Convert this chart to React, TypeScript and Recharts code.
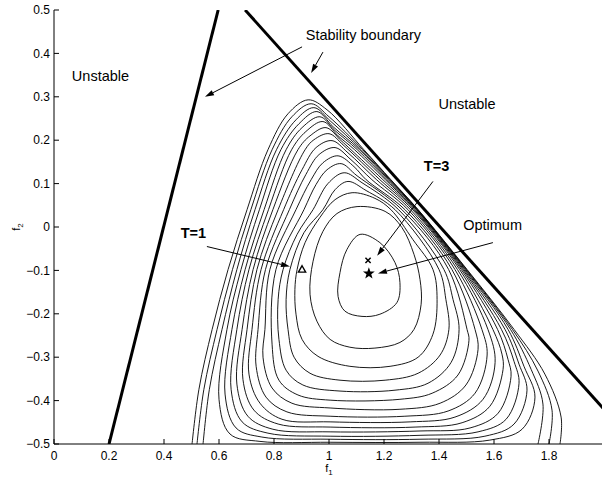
import React from 'react';
import { ComposedChart, Line, Scatter, XAxis, YAxis, ReferenceLine } from 'recharts';

const FONT = '"Liberation Sans", Arial, Helvetica, sans-serif';

const xTicks = [0, 0.2, 0.4, 0.6, 0.8, 1, 1.2, 1.4, 1.6, 1.8];
const yTicks = [-0.5, -0.4, -0.3, -0.2, -0.1, 0, 0.1, 0.2, 0.3, 0.4, 0.5];

// contour lines, innermost (c1) to outermost (c17); c15-c17 leave through the bottom edge
const c1 = [[1.113,-0.017],[1.185,-0.036],[1.24,-0.082],[1.258,-0.128],[1.247,-0.174],[1.185,-0.201],[1.12,-0.206],[1.058,-0.194],[1.033,-0.16],[1.04,-0.105],[1.065,-0.052]];
const c2 = [[1.102,0.047],[1.204,0.036],[1.265,-0.001],[1.309,-0.063],[1.331,-0.121],[1.335,-0.178],[1.309,-0.236],[1.258,-0.266],[1.167,-0.279],[1.076,-0.277],[1.004,-0.259],[0.956,-0.217],[0.931,-0.155],[0.942,-0.079],[0.978,-0.01],[1.029,0.031]];
const c3 = [[1.084,0.079],[1.167,0.066],[1.225,0.04],[1.305,-0.029],[1.378,-0.098],[1.393,-0.167],[1.378,-0.247],[1.324,-0.3],[1.222,-0.321],[1.076,-0.321],[0.96,-0.298],[0.902,-0.259],[0.88,-0.201],[0.876,-0.144],[0.884,-0.098],[0.913,-0.036],[0.967,0.022],[1.022,0.063]];
const c4 = [[1.069,0.105],[1.135,0.084],[1.24,0.04],[1.4,-0.098],[1.425,-0.167],[1.436,-0.236],[1.404,-0.295],[1.324,-0.337],[1.204,-0.353],[1.04,-0.353],[0.931,-0.337],[0.873,-0.3],[0.851,-0.236],[0.844,-0.167],[0.858,-0.098],[0.909,-0.013],[0.978,0.04],[1.022,0.086]];
const c5 = [[1.055,0.125],[1.12,0.102],[1.253,0.04],[1.418,-0.098],[1.451,-0.167],[1.473,-0.236],[1.444,-0.312],[1.36,-0.36],[1.24,-0.376],[1.04,-0.378],[0.905,-0.364],[0.844,-0.33],[0.818,-0.259],[0.815,-0.167],[0.833,-0.098],[0.884,-0.017],[0.942,0.04],[0.996,0.1]];
const c6 = [[1.044,0.146],[1.102,0.118],[1.265,0.04],[1.435,-0.098],[1.502,-0.236],[1.509,-0.261],[1.469,-0.341],[1.375,-0.383],[1.258,-0.397],[1.004,-0.399],[0.887,-0.387],[0.818,-0.353],[0.793,-0.27],[0.807,-0.098],[0.909,0.04],[0.953,0.098],[0.993,0.132]];
const c7 = [[1.033,0.164],[1.091,0.139],[1.135,0.109],[1.276,0.04],[1.447,-0.098],[1.531,-0.236],[1.542,-0.282],[1.498,-0.364],[1.404,-0.406],[1.258,-0.42],[1.004,-0.417],[0.865,-0.406],[0.793,-0.371],[0.76,-0.3],[0.767,-0.236],[0.785,-0.098],[0.88,0.04],[0.935,0.109],[0.978,0.148]];
const c8 = [[1.022,0.183],[1.08,0.155],[1.156,0.109],[1.287,0.04],[1.458,-0.098],[1.556,-0.236],[1.575,-0.295],[1.531,-0.383],[1.433,-0.424],[1.276,-0.436],[1.004,-0.436],[0.847,-0.426],[0.771,-0.392],[0.735,-0.321],[0.742,-0.236],[0.769,-0.098],[0.856,0.04],[0.916,0.121],[0.964,0.167]];
const c9 = [[1.011,0.199],[1.069,0.171],[1.173,0.109],[1.296,0.04],[1.467,-0.098],[1.578,-0.236],[1.604,-0.312],[1.56,-0.397],[1.458,-0.438],[1.295,-0.449],[1.004,-0.449],[0.829,-0.443],[0.749,-0.406],[0.709,-0.339],[0.72,-0.236],[0.753,-0.098],[0.835,0.04],[0.902,0.132],[0.953,0.183]];
const c10 = [[1.0,0.215],[1.055,0.187],[1.185,0.109],[1.304,0.04],[1.475,-0.098],[1.596,-0.236],[1.629,-0.293],[1.633,-0.328],[1.585,-0.413],[1.484,-0.451],[1.313,-0.461],[1.004,-0.461],[0.815,-0.454],[0.727,-0.422],[0.687,-0.351],[0.702,-0.236],[0.738,-0.098],[0.815,0.04],[0.913,0.178],[0.945,0.201]];
const c11 = [[0.989,0.229],[1.044,0.199],[1.08,0.178],[1.196,0.109],[1.309,0.04],[1.481,-0.098],[1.613,-0.236],[1.651,-0.305],[1.662,-0.344],[1.615,-0.429],[1.513,-0.463],[1.331,-0.47],[1.004,-0.472],[0.796,-0.466],[0.705,-0.436],[0.665,-0.362],[0.684,-0.236],[0.724,-0.098],[0.796,0.04],[0.887,0.178],[0.931,0.21]];
const c12 = [[0.978,0.243],[1.033,0.21],[1.093,0.178],[1.205,0.109],[1.313,0.04],[1.486,-0.098],[1.627,-0.236],[1.673,-0.31],[1.691,-0.36],[1.644,-0.443],[1.542,-0.472],[1.331,-0.48],[1.004,-0.482],[0.778,-0.475],[0.684,-0.449],[0.644,-0.374],[0.665,-0.236],[0.709,-0.098],[0.78,0.04],[0.864,0.178],[0.916,0.22]];
const c13 = [[0.967,0.254],[1.022,0.222],[1.103,0.178],[1.211,0.109],[1.317,0.04],[1.49,-0.098],[1.64,-0.236],[1.691,-0.316],[1.72,-0.376],[1.673,-0.454],[1.567,-0.482],[1.331,-0.489],[1.004,-0.489],[0.756,-0.484],[0.662,-0.463],[0.622,-0.385],[0.647,-0.236],[0.695,-0.098],[0.764,0.04],[0.844,0.178],[0.902,0.229]];
const c14 = [[0.956,0.266],[1.015,0.231],[1.111,0.178],[1.216,0.109],[1.319,0.04],[1.494,-0.098],[1.651,-0.236],[1.709,-0.321],[1.749,-0.392],[1.702,-0.466],[1.585,-0.491],[1.331,-0.496],[1.004,-0.496],[0.749,-0.494],[0.64,-0.477],[0.6,-0.397],[0.629,-0.236],[0.68,-0.098],[0.747,0.04],[0.825,0.178],[0.891,0.238]];
const c15 = [[0.542,-0.5],[0.565,-0.374],[0.611,-0.236],[0.665,-0.098],[0.731,0.04],[0.809,0.178],[0.88,0.247],[0.945,0.275],[1.007,0.243],[1.117,0.178],[1.22,0.109],[1.321,0.04],[1.497,-0.098],[1.66,-0.236],[1.735,-0.328],[1.778,-0.408],[1.76,-0.5]];
const c16 = [[0.52,-0.5],[0.545,-0.374],[0.593,-0.236],[0.649,-0.098],[0.716,0.04],[0.793,0.178],[0.865,0.254],[0.935,0.284],[1.0,0.254],[1.123,0.178],[1.223,0.109],[1.323,0.04],[1.5,-0.098],[1.667,-0.236],[1.76,-0.332],[1.811,-0.422],[1.8,-0.5]];
const c17 = [[0.502,-0.5],[0.527,-0.374],[0.575,-0.236],[0.633,-0.098],[0.702,0.04],[0.778,0.178],[0.851,0.261],[0.924,0.293],[0.993,0.27],[1.127,0.178],[1.225,0.109],[1.324,0.04],[1.502,-0.098],[1.673,-0.236],[1.785,-0.339],[1.844,-0.438],[1.84,-0.5]];

const closedContours = [c1, c2, c3, c4, c5, c6, c7, c8, c9, c10, c11, c12, c13, c14];
const openContours = [c15, c16, c17];

const leftBoundary = [[0.2, -0.5], [0.597, 0.5]];
const rightBoundary = [[0.695, 0.5], [2.0, -0.42]];

// text: x centre, y baseline
const labels = [
  { x: 0.169, y: 0.3375, text: 'Unstable', bold: false },
  { x: 1.502, y: 0.272, text: 'Unstable', bold: false },
  { x: 1.125, y: 0.432, text: 'Stability boundary', bold: false },
  { x: 1.391, y: 0.13, text: 'T=3', bold: true },
  { x: 1.595, y: -0.006, text: 'Optimum', bold: false },
  { x: 0.507, y: -0.026, text: 'T=1', bold: true },
];

const arrows = [
  { from: [0.902, 0.415], to: [0.549, 0.3] },
  { from: [0.978, 0.403], to: [0.935, 0.355] },
  { from: [1.378, 0.105], to: [1.175, -0.066] },
  { from: [1.596, -0.036], to: [1.178, -0.107] },
  { from: [0.556, -0.045], to: [0.858, -0.091] },
];

const optimumPt = [{ x: 1.145, y: -0.107 }];
const t3Pt = [{ x: 1.142, y: -0.077 }];
const t1Pt = [{ x: 0.902, y: -0.098 }];

const toXY = (pts: number[][]) => pts.map(([x, y]) => ({ x, y }));

type Pt = [number, number];

// centripetal catmull-rom segment
function seg(ctx: any, p0: Pt, p1: Pt, p2: Pt, p3: Pt) {
  const d01 = Math.hypot(p1[0] - p0[0], p1[1] - p0[1]);
  const d12 = Math.hypot(p2[0] - p1[0], p2[1] - p1[1]);
  const d23 = Math.hypot(p3[0] - p2[0], p3[1] - p2[1]);
  const a01 = Math.sqrt(d01), a12 = Math.sqrt(d12), a23 = Math.sqrt(d23);
  let c1x = p1[0], c1y = p1[1], c2x = p2[0], c2y = p2[1];
  if (a01 > 1e-6) {
    const a = 2 * d01 + 3 * a01 * a12 + d12;
    const n = 3 * a01 * (a01 + a12);
    c1x = (p1[0] * a - p0[0] * d12 + p2[0] * d01) / n;
    c1y = (p1[1] * a - p0[1] * d12 + p2[1] * d01) / n;
  }
  if (a23 > 1e-6) {
    const b = 2 * d23 + 3 * a23 * a12 + d12;
    const m = 3 * a23 * (a23 + a12);
    c2x = (p2[0] * b + p1[0] * d23 - p3[0] * d12) / m;
    c2y = (p2[1] * b + p1[1] * d23 - p3[1] * d12) / m;
  }
  ctx.bezierCurveTo(c1x, c1y, c2x, c2y, p2[0], p2[1]);
}

const makeCurve = (closed: boolean) => (ctx: any) => {
  let pts: Pt[] = [];
  return {
    areaStart() {},
    areaEnd() {},
    lineStart() { pts = []; },
    point(x: number, y: number) { pts.push([x, y]); },
    lineEnd() {
      const n = pts.length;
      if (n < 2) return;
      const get = (i: number) => (closed ? pts[(i + n) % n] : pts[Math.max(0, Math.min(n - 1, i))]);
      ctx.moveTo(pts[0][0], pts[0][1]);
      const count = closed ? n : n - 1;
      for (let i = 0; i < count; i++) seg(ctx, get(i - 1), get(i), get(i + 1), get(i + 2));
      if (closed) ctx.closePath();
    },
  };
};

const closedCurve = makeCurve(true);
const openCurve = makeCurve(false);

const Arrow = (props: any) => {
  const { x1, y1, x2, y2 } = props;
  const dx = x2 - x1, dy = y2 - y1;
  const len = Math.hypot(dx, dy) || 1;
  const ux = dx / len, uy = dy / len;
  const hl = 9, hw = 2.8;
  const bx = x2 - ux * hl, by = y2 - uy * hl;
  return (
    <g>
      <line x1={x1} y1={y1} x2={bx} y2={by} stroke="#000" strokeWidth={1} />
      <polygon points={`${x2},${y2} ${bx - uy * hw},${by + ux * hw} ${bx + uy * hw},${by - ux * hw}`} fill="#000" />
    </g>
  );
};

const TextShape = (props: any) => {
  const { cx, cy, payload } = props;
  return (
    <text x={cx} y={cy} textAnchor="middle" fontFamily={FONT} fontSize={14.5}
      fontWeight={payload.bold ? 'bold' : 'normal'} fill="#000">
      {payload.text}
    </text>
  );
};

const StarShape = (props: any) => {
  const { cx, cy } = props;
  const pts: string[] = [];
  for (let i = 0; i < 10; i++) {
    const r = i % 2 === 0 ? 6.2 : 2.5;
    const a = -Math.PI / 2 + (i * Math.PI) / 5;
    pts.push(`${cx + r * Math.cos(a)},${cy + r * Math.sin(a)}`);
  }
  return <polygon points={pts.join(' ')} fill="#000" />;
};

const CrossShape = (props: any) => {
  const { cx, cy } = props;
  const s = 2.6;
  return (
    <path d={`M${cx - s},${cy - s}L${cx + s},${cy + s}M${cx - s},${cy + s}L${cx + s},${cy - s}`}
      stroke="#000" strokeWidth={1.5} />
  );
};

const TriangleShape = (props: any) => {
  const { cx, cy } = props;
  return (
    <polygon points={`${cx},${cy - 3.8} ${cx + 3.6},${cy + 2.6} ${cx - 3.6},${cy + 2.6}`}
      fill="none" stroke="#000" strokeWidth={1.4} />
  );
};

const XLabel = (props: any) => {
  const vb = props.viewBox || { x: 54, y: 444, width: 550, height: 35 };
  const x = vb.x + vb.width / 2;
  const y = vb.y + 28;
  return (
    <text x={x} y={y} textAnchor="middle" fontFamily={FONT} fontSize={11} fill="#000">
      f<tspan fontSize={8} dy={3}>1</tspan>
    </text>
  );
};

const YLabel = (props: any) => {
  const vb = props.viewBox || { x: 8, y: 10, width: 46, height: 434 };
  const x = vb.x + 12;
  const y = vb.y + vb.height / 2;
  return (
    <text x={x} y={y} transform={`rotate(-90 ${x} ${y})`} textAnchor="middle" fontFamily={FONT} fontSize={11} fill="#000">
      f<tspan fontSize={8} dy={3}>2</tspan>
    </text>
  );
};

const fmtX = (v: number) => String(Math.round(v * 10) / 10);
const fmtY = (v: number) => {
  const r = Math.round(v * 10) / 10;
  if (Math.abs(r) < 1e-9) return '0';
  return String(r).replace('-', '\u2212');
};

const axisStyle = { stroke: '#000', strokeWidth: 1 };
const tickStyle = { fill: '#000', fontSize: 12, fontFamily: FONT };

export default function App() {
  return (
    <div style={{ position: 'fixed', left: 0, top: 0, width: 602, height: 479, overflow: 'hidden', background: '#fff' }}>
      <ComposedChart width={610} height={479} margin={{ top: 10, right: 6, bottom: 0, left: 8 }} style={{ fontFamily: FONT }}>
        <XAxis dataKey="x" type="number" domain={[0, 2]} ticks={xTicks} interval={0} allowDataOverflow
          height={35} tickSize={-5} tickMargin={12} axisLine={axisStyle} tickLine={axisStyle}
          tick={tickStyle} tickFormatter={fmtX} label={<XLabel />} />
        <XAxis xAxisId="top" orientation="top" type="number" domain={[0, 2]} ticks={xTicks} interval={0}
          allowDataOverflow height={0} tickSize={-5} axisLine={axisStyle} tickLine={axisStyle}
          tick={false} />
        <YAxis dataKey="y" type="number" domain={[-0.5, 0.5]} ticks={yTicks} interval={0} allowDataOverflow
          width={46} tickSize={-5} tickMargin={9} axisLine={axisStyle} tickLine={axisStyle}
          tick={tickStyle} tickFormatter={fmtY} label={<YLabel />} />
        <YAxis yAxisId="right" orientation="right" type="number" domain={[-0.5, 0.5]} ticks={yTicks}
          interval={0} allowDataOverflow width={0} tickSize={-5} axisLine={axisStyle} tickLine={axisStyle}
          tick={false} />

        {closedContours.map((c, i) => (
          <Line key={`cc${i}`} data={toXY(c)} dataKey="y" type={closedCurve as any} stroke="#000"
            strokeWidth={0.9} fill="none" dot={false} activeDot={false} isAnimationActive={false} legendType="none" />
        ))}
        {openContours.map((c, i) => (
          <Line key={`oc${i}`} data={toXY(c)} dataKey="y" type={openCurve as any} stroke="#000"
            strokeWidth={0.9} fill="none" dot={false} activeDot={false} isAnimationActive={false} legendType="none" />
        ))}

        <Line data={toXY(leftBoundary)} dataKey="y" type="linear" stroke="#000" strokeWidth={3}
          dot={false} activeDot={false} isAnimationActive={false} legendType="none" />
        <Line data={toXY(rightBoundary)} dataKey="y" type="linear" stroke="#000" strokeWidth={3}
          dot={false} activeDot={false} isAnimationActive={false} legendType="none" />

        {arrows.map((a, i) => (
          <ReferenceLine key={`ar${i}`} segment={[{ x: a.from[0], y: a.from[1] }, { x: a.to[0], y: a.to[1] }]}
            shape={<Arrow />} />
        ))}

        <Scatter data={labels} shape={<TextShape />} isAnimationActive={false} legendType="none" />
        <Scatter data={optimumPt} shape={<StarShape />} isAnimationActive={false} legendType="none" />
        <Scatter data={t3Pt} shape={<CrossShape />} isAnimationActive={false} legendType="none" />
        <Scatter data={t1Pt} shape={<TriangleShape />} isAnimationActive={false} legendType="none" />
      </ComposedChart>
    </div>
  );
}
